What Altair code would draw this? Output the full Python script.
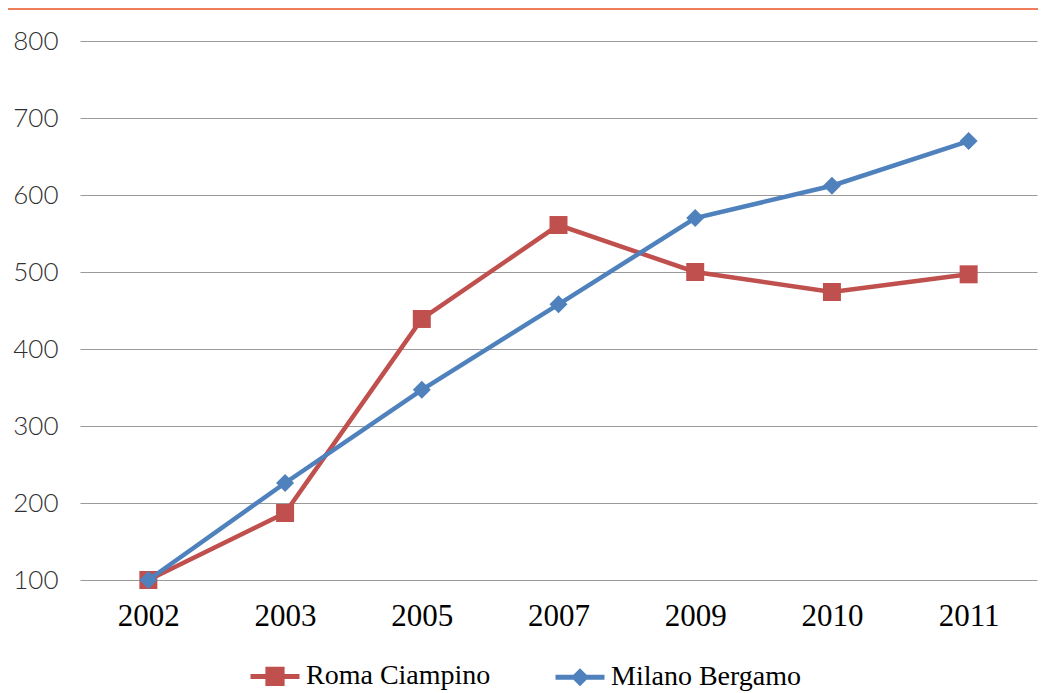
import altair as alt
import pandas as pd

years = ["2002", "2003", "2005", "2007", "2009", "2010", "2011"]
roma = [100, 187, 439, 561, 500, 474, 497]
milano = [100, 226, 347, 458, 570, 612, 670]
series_names = ["Roma Ciampino", "Milano Bergamo"]
colors = ["#C0504D", "#4F81BD"]
y_ticks = [100, 200, 300, 400, 500, 600, 700, 800]

rows = []
for name, vals in zip(series_names, [roma, milano]):
    for yr, v in zip(years, vals):
        rows.append({"year": yr, "value": v, "series": name})
df = pd.DataFrame(rows)

W, H = 957, 539

x_enc = alt.X("year:O", sort=years,
              scale=alt.Scale(type="point", padding=0.5),
              axis=alt.Axis(title=None, labelAngle=0, ticks=False, domain=False,
                            grid=False, labelFont="Liberation Serif",
                            labelFontSize=31, labelColor="#000000",
                            labelPadding=21))
y_enc = alt.Y("value:Q", scale=alt.Scale(domain=[100, 800], nice=False, zero=False),
              axis=alt.Axis(title=None, values=y_ticks, ticks=False, domain=False,
                            grid=True, gridColor="#9A9A9A", gridWidth=1,
                            labelFont="Lato", labelFontWeight=300,
                            labelFontSize=26, labelColor="#303030",
                            labelPadding=22))

sq_path = "M-0.29,-0.29H0.29V0.29H-0.29Z M-0.1,-0.1H0.1V0.1H-0.1Z M-1,0H1"
di_path = "M0,-0.226L0.226,0L0,0.226L-0.226,0Z M-1,0H1"

leg = alt.Legend(title=None, orient="none", direction="horizontal",
                 legendX=168, legendY=608,
                 symbolSize=2401, symbolStrokeWidth=5, symbolOpacity=1,
                 labelFont="Liberation Serif", labelFontSize=28, labelLimit=0,
                 labelColor="#000000", labelOffset=4, columnPadding=54)

stroke_enc = alt.Stroke("series:N", scale=alt.Scale(domain=series_names, range=colors),
                        legend=leg)
shape_enc = alt.Shape("series:N", scale=alt.Scale(domain=series_names, range=[sq_path, di_path]),
                      legend=leg)

base = alt.Chart(df)

# invisible layer that carries the legend (drawn first, under everything)
legend_layer = base.mark_point(filled=False, opacity=0, size=1).encode(
    x=x_enc, y=y_enc, stroke=stroke_enc, shape=shape_enc)

layers = []
for name, shp in zip(series_names, ["square", "diamond"]):
    b = base.transform_filter(alt.datum.series == name)
    layers.append(b.mark_line(strokeWidth=4.5).encode(
        x=x_enc, y=y_enc, stroke=alt.Stroke("series:N", legend=None)))
    layers.append(b.mark_point(filled=True, opacity=1, size=324, shape=shp, strokeWidth=0)
                  .encode(x=x_enc, y=y_enc, fill=alt.Fill("series:N",
                          scale=alt.Scale(domain=series_names, range=colors), legend=None)))

top_rule = alt.Chart(pd.DataFrame({"k": [0]})).mark_rule(color="#EE7D5C", strokeWidth=2).encode(
    x=alt.value(-72), x2=alt.value(W + 1), y=alt.value(-32)
)

chart = alt.layer(legend_layer, top_rule, *layers).properties(
    width=W, height=H,
    autosize=alt.AutoSizeParams(type="none"),
    padding={"left": 72, "top": 33, "right": 1, "bottom": 113},
).configure_view(stroke=None)

chart.save("out.html", embed_options={"renderer": "svg", "actions": False})
